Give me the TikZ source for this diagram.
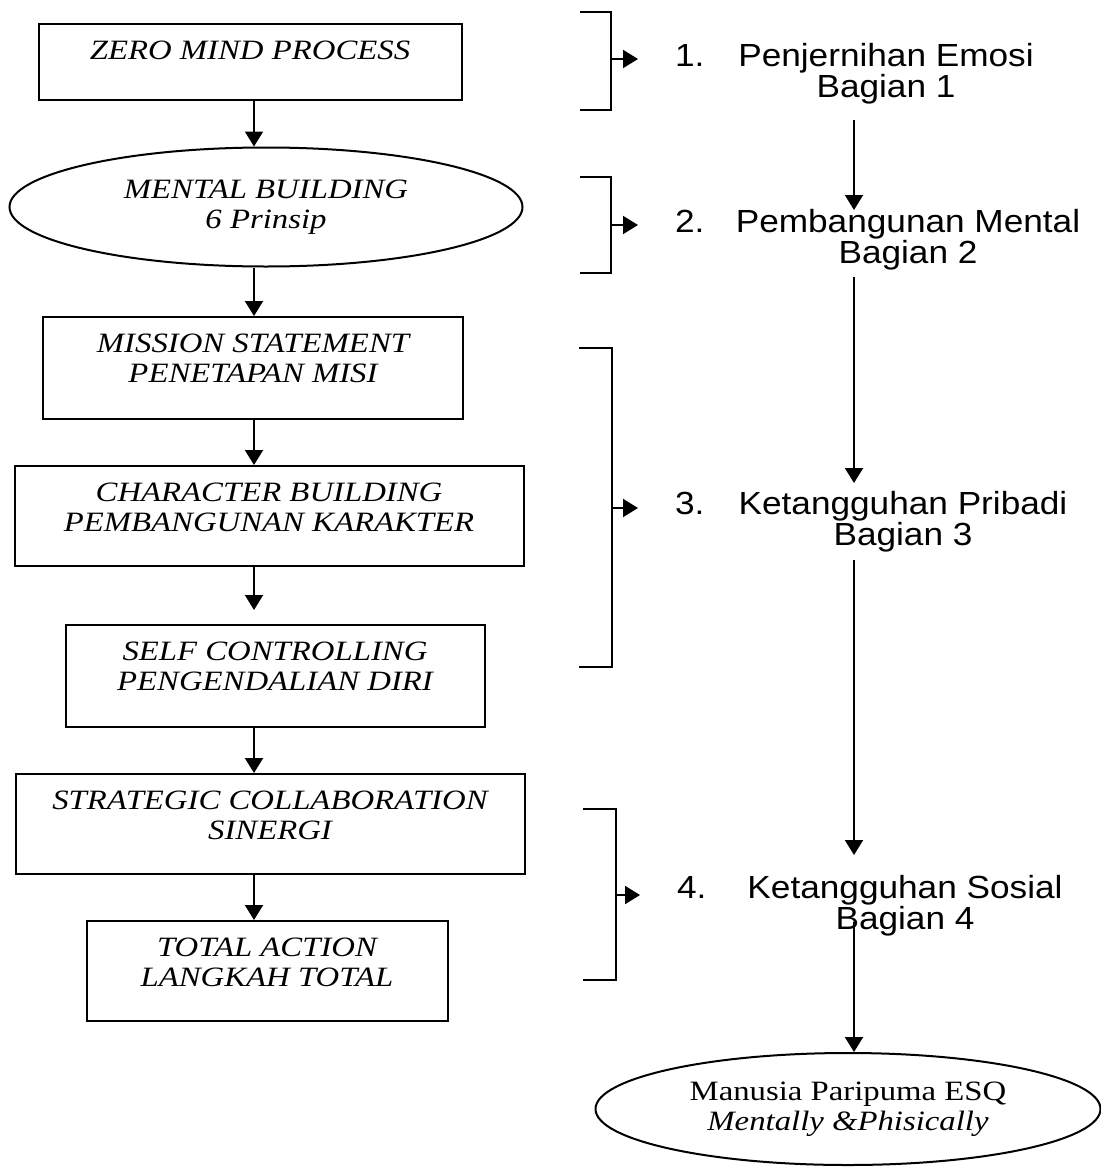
\documentclass[tikz,border=0pt]{standalone}
\usepackage{fontspec}
\setmainfont{Liberation Serif}[FakeStretch=1.17]
\newfontfamily\arialfont{Liberation Sans}[FakeStretch=1.1]
\usetikzlibrary{arrows.meta,shapes.geometric}

\begin{document}
\begin{tikzpicture}[x=0.5pt,y=-0.5pt,line width=1pt,
  stepbox/.style 2 args={draw,rectangle,anchor=north,minimum width=#1,text depth=#2,
    inner xsep=0pt,inner ysep=8.7pt,align=center,font=\fontsize{14}{15}\selectfont\itshape},
  stepoval/.style 2 args={draw,ellipse,minimum width=#1,minimum height=#2,inner sep=0pt,
    align=center,font=\fontsize{14}{15}\selectfont},
  stage/.style={anchor=north,inner sep=0pt,align=center,font=\arialfont\fontsize{16}{15.5}\selectfont},
  num/.style={anchor=base west,inner sep=0pt,font=\arialfont\fontsize{16}{15.5}\selectfont},
  flow/.style={-{Triangle[length=7.5pt,width=9pt]}}]
\useasboundingbox (0,0) rectangle (1100,1167);
\coordinate (col) at (254,0);
\coordinate (spine) at (854,0);
%
% left column
\node[stepbox={211.5pt}{11.3pt}] (zero) at (250,23) {ZERO MIND PROCESS};
\node[stepoval={256.5pt}{59.5pt},font=\fontsize{14}{15}\selectfont\itshape] (mental) at (266,207)
  {MENTAL BUILDING\\6 Prinsip};
\node[stepbox={210pt}{9.3pt}] (mission) at (253,316) {MISSION STATEMENT\\PENETAPAN MISI};
\node[stepbox={254.5pt}{8.3pt}] (karakter) at (269,465) {CHARACTER BUILDING\\PEMBANGUNAN KARAKTER};
\node[stepbox={209.5pt}{9.3pt}] (self) at (275,624) {SELF CONTROLLING\\PENGENDALIAN DIRI};
\node[stepbox={254.5pt}{8.3pt}] (sinergi) at (270,773) {STRATEGIC COLLABORATION\\SINERGI};
\node[stepbox={180.5pt}{8.3pt}] (total) at (267,920) {TOTAL ACTION\\LANGKAH TOTAL};
%
\draw[flow] (zero.south -| col) -- (mental.north -| col);
\draw[flow] (mental.south -| col) -- (mission.north -| col);
\draw[flow] (mission.south -| col) -- (karakter.north -| col);
\draw[flow,shorten >=7pt] (karakter.south -| col) -- (self.north -| col);
\draw[flow] (self.south -| col) -- (sinergi.north -| col);
\draw[flow] (sinergi.south -| col) -- (total.north -| col);
%
% brackets
\draw (580,12) -- (611,12) -- (611,110) -- (580,110);
\draw (580,177) -- (611,177) -- (611,273) -- (580,273);
\draw (579,348) -- (612,348) -- (612,667) -- (579,667);
\draw (583,809) -- (616,809) -- (616,980) -- (583,980);
\coordinate (b1) at (611,59);
\coordinate (b2) at (611,225);
\coordinate (b3) at (612,508);
\coordinate (b4) at (616,895);
%
% right column
\node[num] (n1) at (674,66) {1.};
\node[stage] (s1) at (886,42) {Penjernihan Emosi\\Bagian 1};
\node[num] (n2) at (674,232) {2.};
\node[stage] (s2) at (908,208) {Pembangunan Mental\\Bagian 2};
\node[num] (n3) at (674,514) {3.};
\node[stage] (s3) at (903,490) {Ketangguhan Pribadi\\Bagian 3};
\node[num] (n4) at (676,898) {4.};
\node[stage] (s4) at (905,874) {Ketangguhan Sosial\\Bagian 4};
\node[stepoval={252.5pt}{56pt}] (esq) at (848,1109)
  {Manusia Paripuma ESQ\\\textit{Mentally \&Phisically}};
%
\draw[flow,shorten >=18pt] (b1) -- (b1 -| n1.west);
\draw[flow,shorten >=18pt] (b2) -- (b2 -| n2.west);
\draw[flow,shorten >=18pt] (b3) -- (b3 -| n3.west);
\draw[flow,shorten >=18pt] (b4) -- (b4 -| n4.west);
%
\draw[flow,shorten <=7.5pt,shorten >=-1pt] (s1.south -| spine) -- (s2.north -| spine);
\draw[flow,shorten <=3pt,shorten >=3.5pt] (s2.south -| spine) -- (s3.north -| spine);
\draw[flow,shorten <=3.5pt,shorten >=9.5pt] (s3.south -| spine) -- (s4.north -| spine);
\draw[flow,shorten <=-7.5pt] (s4.south -| spine) -- (esq.north -| spine);
\end{tikzpicture}
\end{document}
